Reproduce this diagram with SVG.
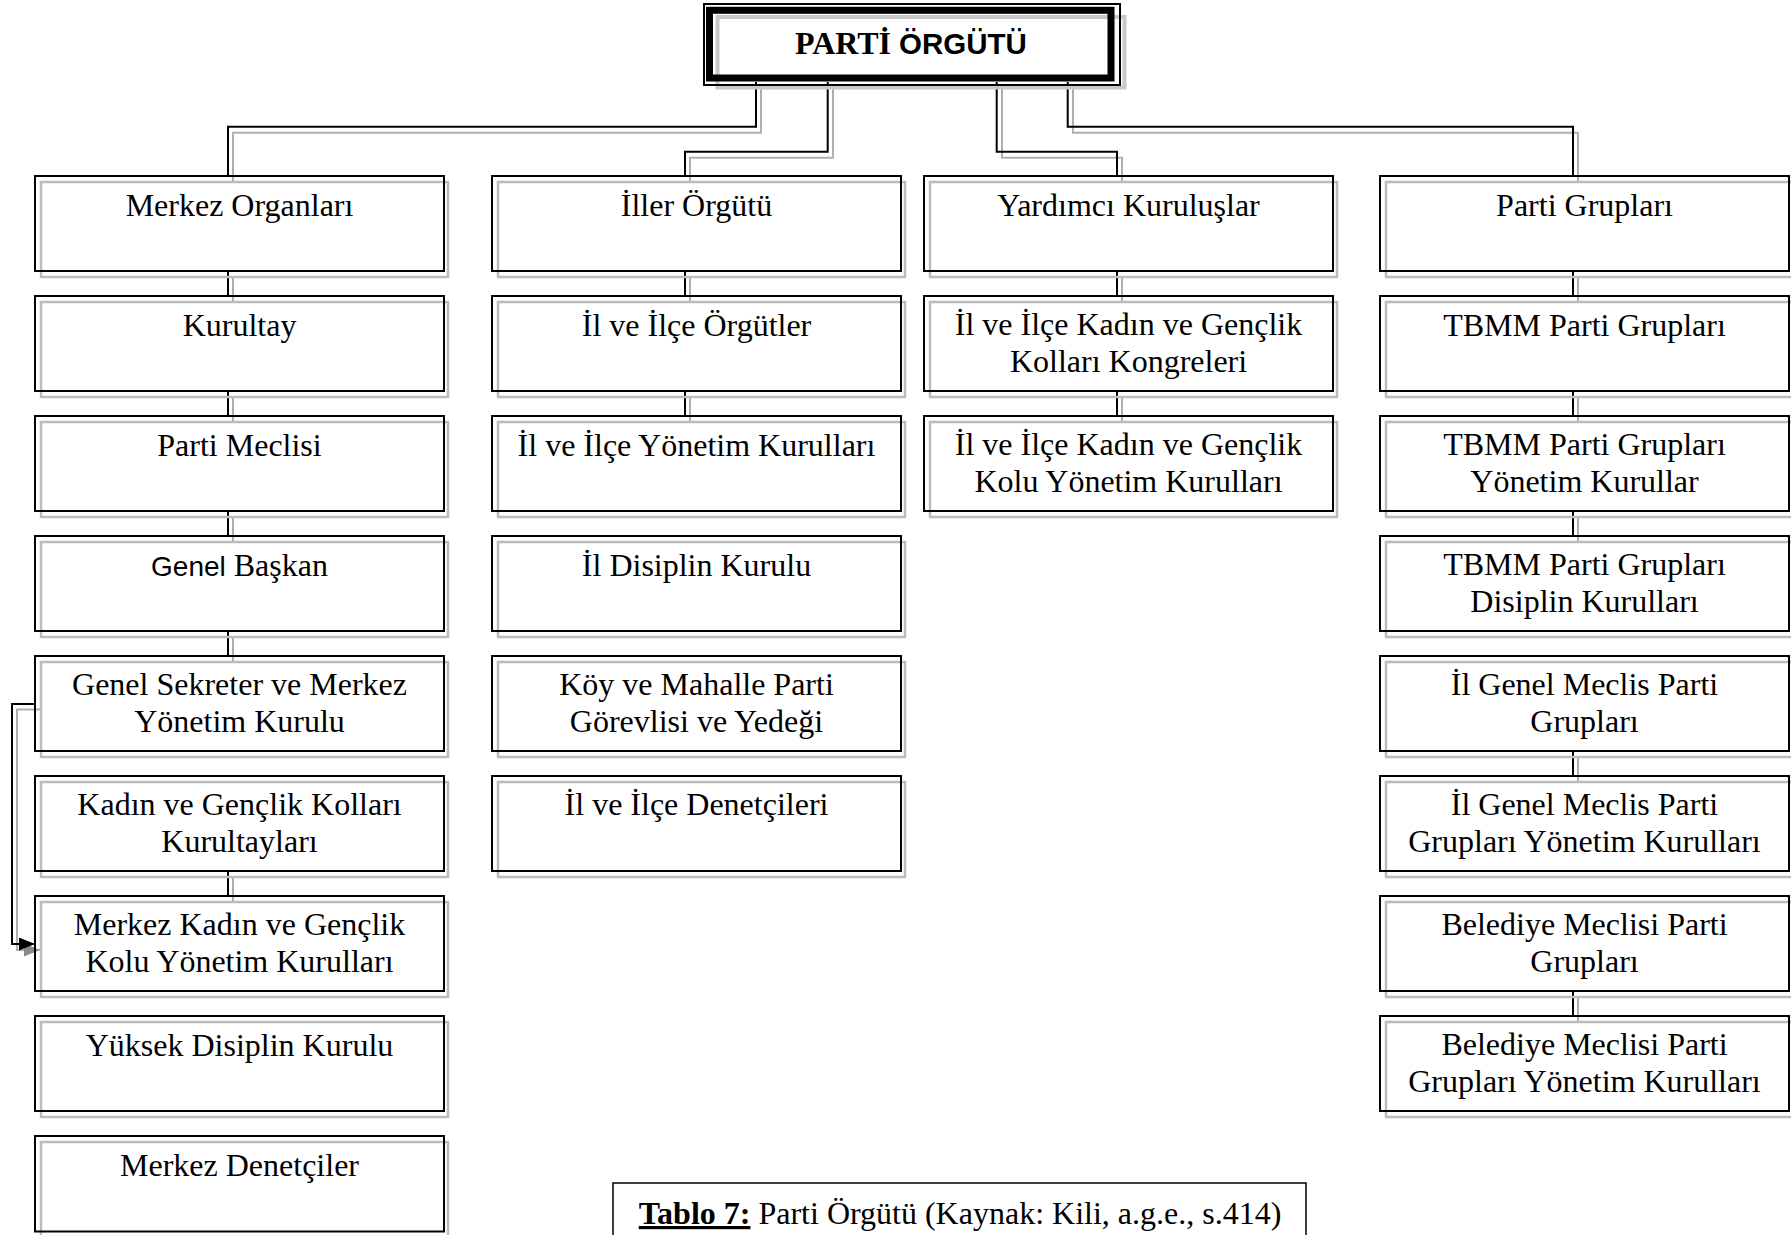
<svg xmlns="http://www.w3.org/2000/svg" width="1791" height="1235" viewBox="0 0 1791 1235">
<style>
.bg{fill:#fff}
.box{fill:none;stroke:#000;stroke-width:2}
.sh{fill:none;stroke:#bcbcbc;stroke-width:2.5}
.cb{fill:none;stroke:#000;stroke-width:2}
.cg{fill:none;stroke:#b0b0b0;stroke-width:2}
.t{font-family:"Liberation Serif","Times New Roman",serif;font-size:32px;text-anchor:middle;fill:#000}
.s{font-family:"Liberation Sans",Arial,sans-serif;font-size:28px}
</style>
<defs>
<marker id="ab" markerUnits="userSpaceOnUse" viewBox="0 0 16 13" refX="16" refY="6.5" markerWidth="16" markerHeight="13" orient="auto"><path d="M0,0 L16,6.5 L0,13 z" fill="#000"/></marker>
<marker id="ag" markerUnits="userSpaceOnUse" viewBox="0 0 16 13" refX="16" refY="6.5" markerWidth="16" markerHeight="13" orient="auto"><path d="M0,0 L16,6.5 L0,13 z" fill="#8a8a8a"/></marker>
</defs>
<rect class="bg" x="0" y="0" width="1791" height="1235"/>

<g id="connectors">
<g id="gray-lines">
<path class="cg" d="M761 88 V132.7 H233 V182"/>
<path class="cg" d="M833 88 V157.7 H690 V182"/>
<path class="cg" d="M1002 88 V157.7 H1122 V182"/>
<path class="cg" d="M1073 88 V132.7 H1578 V182"/>
<path class="cg" d="M233 277 V302 M233 397 V422 M233 517 V542 M233 637 V662 M233 877 V902"/>
<path class="cg" d="M690 277 V302 M690 397 V422"/>
<path class="cg" d="M1122 277 V302 M1122 397 V422"/>
<path class="cg" d="M1578 277 V302 M1578 397 V422 M1578 517 V542 M1578 757 V782 M1578 997 V1022"/>
<path class="cg" d="M41 709.5 H17 V950 H40" marker-end="url(#ag)"/>
</g>
<g id="black-lines">
<path class="cb" d="M756 82 V126.7 H228 V176"/>
<path class="cb" d="M827.7 82 V151.7 H685 V176"/>
<path class="cb" d="M996.7 82 V151.7 H1117 V176"/>
<path class="cb" d="M1067.7 82 V126.7 H1573 V176"/>
<path class="cb" d="M228 271 V296 M228 391 V416 M228 511 V536 M228 631 V656 M228 871 V896"/>
<path class="cb" d="M685 271 V296 M685 391 V416"/>
<path class="cb" d="M1117 271 V296 M1117 391 V416"/>
<path class="cb" d="M1573 271 V296 M1573 391 V416 M1573 511 V536 M1573 751 V776 M1573 991 V1016"/>
<path class="cb" d="M35 704 H12 V944 H35" marker-end="url(#ab)"/>
</g>
</g>

<g id="root">
<rect x="717.5" y="17" width="407" height="70.5" fill="none" stroke="#c8c8c8" stroke-width="4"/>
<rect x="704" y="4" width="416" height="81" fill="none" stroke="#000" stroke-width="2"/>
<rect x="709.5" y="10.3" width="401.5" height="67.7" fill="none" stroke="#000" stroke-width="7"/>
<text x="795" y="54" style="font-family:'Liberation Serif',serif;font-size:32px;font-weight:bold">PARTİ <tspan style="font-family:'Liberation Sans',Arial,sans-serif;font-size:29.5px">ÖRGÜTÜ</tspan></text>
</g>

<!-- Column 1 -->
<g id="merkez-organlari"><rect class="sh" x="41" y="182" width="407" height="95"/><rect class="box" x="35" y="176" width="409" height="95"/><text class="t" x="239.5" y="216">Merkez Organları</text></g>
<g id="kurultay"><rect class="sh" x="41" y="302" width="407" height="95"/><rect class="box" x="35" y="296" width="409" height="95"/><text class="t" x="239.5" y="336">Kurultay</text></g>
<g id="parti-meclisi"><rect class="sh" x="41" y="422" width="407" height="95"/><rect class="box" x="35" y="416" width="409" height="95"/><text class="t" x="239.5" y="456">Parti Meclisi</text></g>
<g id="genel-baskan"><rect class="sh" x="41" y="542" width="407" height="95"/><rect class="box" x="35" y="536" width="409" height="95"/><text class="t" x="239.5" y="576"><tspan class="s">Genel</tspan> Başkan</text></g>
<g id="genel-sekreter"><rect class="sh" x="41" y="662" width="407" height="95"/><rect class="box" x="35" y="656" width="409" height="95"/><text class="t" x="239.5" y="695">Genel Sekreter ve Merkez<tspan x="239.5" y="731.5">Yönetim Kurulu</tspan></text></g>
<g id="kadin-genclik-kurultaylari"><rect class="sh" x="41" y="782" width="407" height="95"/><rect class="box" x="35" y="776" width="409" height="95"/><text class="t" x="239.5" y="815">Kadın ve Gençlik Kolları<tspan x="239.5" y="851.5">Kurultayları</tspan></text></g>
<g id="merkez-kadin-genclik"><rect class="sh" x="41" y="902" width="407" height="95"/><rect class="box" x="35" y="896" width="409" height="95"/><text class="t" x="239.5" y="935">Merkez Kadın ve Gençlik<tspan x="239.5" y="971.5">Kolu Yönetim Kurulları</tspan></text></g>
<g id="yuksek-disiplin"><rect class="sh" x="41" y="1022" width="407" height="95"/><rect class="box" x="35" y="1016" width="409" height="95"/><text class="t" x="239.5" y="1056">Yüksek Disiplin Kurulu</text></g>
<g id="merkez-denetciler"><rect class="sh" x="41" y="1142" width="407" height="95"/><rect class="box" x="35" y="1136" width="409" height="95.5"/><text class="t" x="239.5" y="1176">Merkez Denetçiler</text></g>

<!-- Column 2 -->
<g id="iller-orgutu"><rect class="sh" x="498" y="182" width="407" height="95"/><rect class="box" x="492" y="176" width="409" height="95"/><text class="t" x="696.5" y="216">İller Örgütü</text></g>
<g id="il-ilce-orgutler"><rect class="sh" x="498" y="302" width="407" height="95"/><rect class="box" x="492" y="296" width="409" height="95"/><text class="t" x="696.5" y="336">İl ve İlçe Örgütler</text></g>
<g id="il-ilce-yonetim"><rect class="sh" x="498" y="422" width="407" height="95"/><rect class="box" x="492" y="416" width="409" height="95"/><text class="t" x="696.5" y="456">İl ve İlçe Yönetim Kurulları</text></g>
<g id="il-disiplin"><rect class="sh" x="498" y="542" width="407" height="95"/><rect class="box" x="492" y="536" width="409" height="95"/><text class="t" x="696.5" y="576">İl Disiplin Kurulu</text></g>
<g id="koy-mahalle"><rect class="sh" x="498" y="662" width="407" height="95"/><rect class="box" x="492" y="656" width="409" height="95"/><text class="t" x="696.5" y="695">Köy ve Mahalle Parti<tspan x="696.5" y="731.5">Görevlisi ve Yedeği</tspan></text></g>
<g id="il-ilce-denetcileri"><rect class="sh" x="498" y="782" width="407" height="95"/><rect class="box" x="492" y="776" width="409" height="95"/><text class="t" x="696.5" y="815">İl ve İlçe Denetçileri</text></g>

<!-- Column 3 -->
<g id="yardimci-kuruluslar"><rect class="sh" x="930" y="182" width="407" height="95"/><rect class="box" x="924" y="176" width="409" height="95"/><text class="t" x="1128.5" y="216">Yardımcı Kuruluşlar</text></g>
<g id="kadin-genclik-kongreleri"><rect class="sh" x="930" y="302" width="407" height="95"/><rect class="box" x="924" y="296" width="409" height="95"/><text class="t" x="1128.5" y="335">İl ve İlçe Kadın ve Gençlik<tspan x="1128.5" y="371.5">Kolları Kongreleri</tspan></text></g>
<g id="kadin-genclik-yonetim"><rect class="sh" x="930" y="422" width="407" height="95"/><rect class="box" x="924" y="416" width="409" height="95"/><text class="t" x="1128.5" y="455">İl ve İlçe Kadın ve Gençlik<tspan x="1128.5" y="491.5">Kolu Yönetim Kurulları</tspan></text></g>

<!-- Column 4 -->
<g id="parti-gruplari"><rect class="sh" x="1386" y="182" width="407" height="95"/><rect class="box" x="1380" y="176" width="409" height="95"/><text class="t" x="1584.5" y="216">Parti Grupları</text></g>
<g id="tbmm-gruplari"><rect class="sh" x="1386" y="302" width="407" height="95"/><rect class="box" x="1380" y="296" width="409" height="95"/><text class="t" x="1584.5" y="336">TBMM Parti Grupları</text></g>
<g id="tbmm-yonetim"><rect class="sh" x="1386" y="422" width="407" height="95"/><rect class="box" x="1380" y="416" width="409" height="95"/><text class="t" x="1584.5" y="455">TBMM Parti Grupları<tspan x="1584.5" y="491.5">Yönetim Kurullar</tspan></text></g>
<g id="tbmm-disiplin"><rect class="sh" x="1386" y="542" width="407" height="95"/><rect class="box" x="1380" y="536" width="409" height="95"/><text class="t" x="1584.5" y="575">TBMM Parti Grupları<tspan x="1584.5" y="611.5">Disiplin Kurulları</tspan></text></g>
<g id="il-genel-meclis"><rect class="sh" x="1386" y="662" width="407" height="95"/><rect class="box" x="1380" y="656" width="409" height="95"/><text class="t" x="1584.5" y="695">İl Genel Meclis Parti<tspan x="1584.5" y="731.5">Grupları</tspan></text></g>
<g id="il-genel-meclis-yonetim"><rect class="sh" x="1386" y="782" width="407" height="95"/><rect class="box" x="1380" y="776" width="409" height="95"/><text class="t" x="1584.5" y="815">İl Genel Meclis Parti<tspan x="1584.5" y="851.5">Grupları Yönetim Kurulları</tspan></text></g>
<g id="belediye-meclisi"><rect class="sh" x="1386" y="902" width="407" height="95"/><rect class="box" x="1380" y="896" width="409" height="95"/><text class="t" x="1584.5" y="935">Belediye Meclisi Parti<tspan x="1584.5" y="971.5">Grupları</tspan></text></g>
<g id="belediye-meclisi-yonetim"><rect class="sh" x="1386" y="1022" width="407" height="95"/><rect class="box" x="1380" y="1016" width="409" height="95"/><text class="t" x="1584.5" y="1055">Belediye Meclisi Parti<tspan x="1584.5" y="1091.5">Grupları Yönetim Kurulları</tspan></text></g>

<g id="caption">
<rect x="613" y="1183" width="693" height="70" fill="none" stroke="#000" stroke-width="1.5"/>
<text class="t" x="960" y="1224"><tspan font-weight="bold" text-decoration="underline">Tablo 7:</tspan> Parti Örgütü (Kaynak: Kili, a.g.e., s.414)</text>
</g>
</svg>
